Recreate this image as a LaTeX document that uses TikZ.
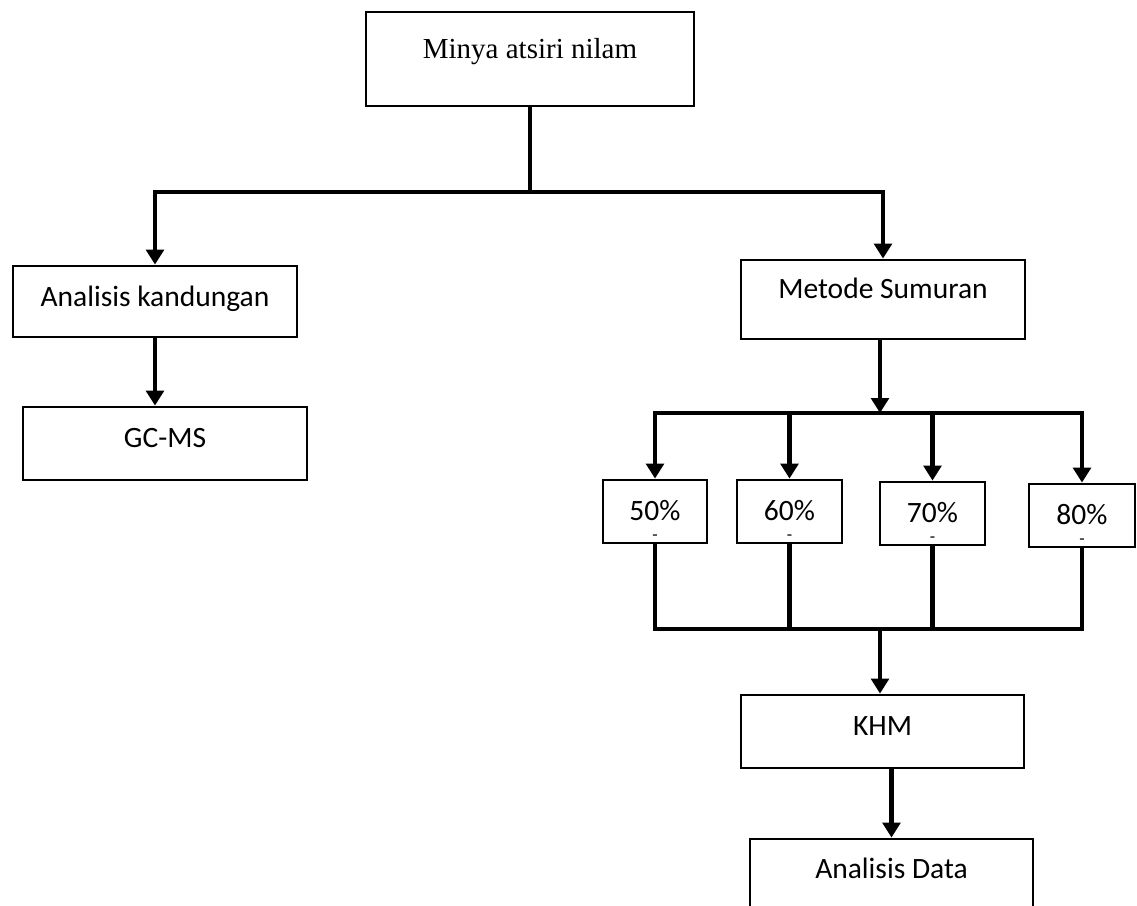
\documentclass[tikz,border=0pt]{standalone}
\usepackage{fontspec}
\setmainfont{Liberation Serif}
\newfontfamily\calibri{Carlito}
\usetikzlibrary{arrows.meta}

\begin{document}
\begin{tikzpicture}[x=0.02cm, y=-0.02cm,
    box/.style={draw, line width=1.6pt, inner sep=0pt, text height=10pt, text depth=#1,
      font=\fontsize{16.8}{19}\selectfont\calibri},
    box/.default=0.3pt,
    pbox/.style={box, align=center, text height=33.1pt, minimum height=1.26cm},
    line/.style={line width=2.5pt},
    arrow/.style={line width=2.5pt, -{Triangle[width=10pt,length=8.5pt]}}]
  \useasboundingbox (0,0) rectangle (1137,906);
  \clip (0,0) rectangle (1137,906);

  % boxes
  \node [box=10.5pt, font=\fontsize{16.5}{19}\selectfont, minimum width=6.56cm, minimum height=1.88cm] (oil) at (530,59) {Minya atsiri nilam};
  \node [box=4.8pt, minimum width=5.68cm, minimum height=1.42cm] (ana) at (155,301.5) {Analisis kandungan};
  \node [box=6pt, minimum width=5.68cm, minimum height=1.46cm] (gcms) at (165,443.5) {GC-MS};
  \node [box=11.6pt, minimum width=5.68cm, minimum height=1.58cm] (metode) at (883,299.5) {Metode Sumuran};
  \node [pbox, minimum width=2.08cm] (p50) at (655,511.5) {50\%\\[-8pt]{\fontsize{10}{10}\selectfont -}};
  \node [pbox, minimum width=2.1cm] (p60) at (789.5,511.5) {60\%\\[-8pt]{\fontsize{10}{10}\selectfont -}};
  \node [pbox, minimum width=2.1cm] (p70) at (932.5,513.5) {70\%\\[-8pt]{\fontsize{10}{10}\selectfont -}};
  \node [pbox, minimum width=2.12cm] (p80) at (1082,515.5) {80\%\\[-8pt]{\fontsize{10}{10}\selectfont -}};
  \node [box=6pt, minimum width=5.66cm, minimum height=1.46cm] (khm) at (882.5,731.5) {KHM};
  \node [box=8.2pt, minimum width=5.66cm, minimum height=1.5cm] (data) at (891.5,876.5) {Analisis Data};

  % oil -> two branches
  \coordinate (split) at (530,192);
  \draw [line] (oil.south) -- (split);
  \draw [arrow] (split) -| (ana.north);
  \draw [arrow] (split) -| (metode.north);
  \draw [arrow] (ana.south) -- (ana.south |- gcms.north);

  % concentrations
  \coordinate (fork) at (880,413);
  \draw [arrow] (metode.south -| fork) -- (fork);
  \draw [arrow] (fork) -| (p50.north);
  \draw [arrow] (fork) -| (p60.north);
  \draw [arrow] (fork) -| (p70.north);
  \draw [arrow] (fork) -| (p80.north);

  % join
  \coordinate (join) at (880,629);
  \draw [line] (p50.south) |- (join);
  \draw [line] (p60.south) |- (join);
  \draw [line] (p70.south) |- (join);
  \draw [line] (p80.south) |- (join);
  \draw [arrow] (join) -- (join |- khm.north);
  \draw [arrow] (khm.south -| data.north) -- (data.north);
\end{tikzpicture}
\end{document}
